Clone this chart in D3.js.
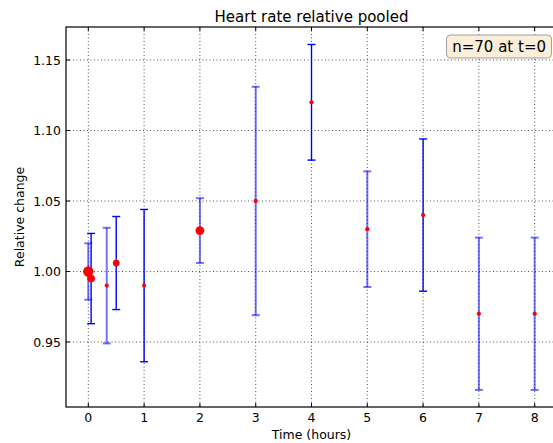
<!DOCTYPE html>
<html><head><meta charset="utf-8">
<script src="https://cdn.jsdelivr.net/npm/d3@7"></script>
<style>body{margin:0;background:#fff}svg{display:block}text{font-family:"DejaVu Sans",sans-serif}</style>
</head><body><svg id="c" width="553" height="443"></svg>
<script>
const times = [0, 0.05, 0.33, 0.5, 1, 2, 3, 4, 5, 6, 7, 8];
const means = [1.000, 0.995, 0.990, 1.006, 0.990, 1.029, 1.050, 1.120, 1.030, 1.040, 0.970, 0.970];
const errs  = [0.020, 0.032, 0.041, 0.033, 0.054, 0.023, 0.081, 0.041, 0.041, 0.054, 0.054, 0.054];
const counts = [70, 38, 11, 30, 11, 51, 12, 12, 12, 12, 12, 12];
const group = ["b","a","b","a","a","b","b","a","b","a","b","b"];
const xTicks = [0,1,2,3,4,5,6,7,8];
const yTicks = [0.95, 1.00, 1.05, 1.10, 1.15];

const svg = d3.select("#c");
const L=66, R=557, T=27, B=407;
const x = d3.scaleLinear().domain([-0.4, 8.4]).range([L, R]);
const y = d3.scaleLinear().domain([0.9039, 1.1734]).range([B, T]);
const r = d3.scaleSqrt().domain([0, 70]).range([0, 5.2]);

// grid
const grid = svg.append("g").attr("stroke","#000").attr("stroke-width",0.8).attr("stroke-dasharray","1,2.5").attr("opacity",0.85);
xTicks.forEach(t=>grid.append("line").attr("x1",x(t)).attr("x2",x(t)).attr("y1",T).attr("y2",B));
yTicks.forEach(t=>grid.append("line").attr("x1",L).attr("x2",R).attr("y1",y(t)).attr("y2",y(t)));

// error bars
const eb = svg.append("g");
times.forEach((t,i)=>{
  const g = eb.append("g").attr("stroke","#0000ff")
    .attr("stroke-opacity", group[i]==="b"?0.55:1)
    .attr("stroke-width", group[i]==="b"?2:1.4);
  const xc = x(t), y1 = y(means[i]+errs[i]), y0 = y(means[i]-errs[i]);
  g.append("line").attr("x1",xc).attr("x2",xc).attr("y1",y1).attr("y2",y0);
  g.append("line").attr("x1",xc-4).attr("x2",xc+4).attr("y1",y1).attr("y2",y1);
  g.append("line").attr("x1",xc-4).attr("x2",xc+4).attr("y1",y0).attr("y2",y0);
});

// points
svg.append("g").selectAll("circle").data(times).join("circle")
  .attr("cx",(d)=>x(d)).attr("cy",(d,i)=>y(means[i])).attr("r",(d,i)=>r(counts[i]))
  .attr("fill","#ff0000");

// frame
const frame = svg.append("g").attr("stroke","#000").attr("stroke-width",1.2).attr("fill","none");
frame.append("rect").attr("x",L).attr("y",T).attr("width",R-L).attr("height",B-T);

// ticks (inward, all sides)
const tk = svg.append("g").attr("stroke","#000").attr("stroke-width",1);
xTicks.forEach(t=>{
  tk.append("line").attr("x1",x(t)).attr("x2",x(t)).attr("y1",B).attr("y2",B-4);
  tk.append("line").attr("x1",x(t)).attr("x2",x(t)).attr("y1",T).attr("y2",T+4);
});
yTicks.forEach(t=>{
  tk.append("line").attr("x1",L).attr("x2",L+4).attr("y1",y(t)).attr("y2",y(t));
  tk.append("line").attr("x1",R).attr("x2",R-4).attr("y1",y(t)).attr("y2",y(t));
});

// tick labels
svg.append("g").selectAll("text").data(xTicks).join("text")
  .attr("x",d=>x(d)).attr("y",421.5).attr("text-anchor","middle").attr("font-size",12.5).text(d=>d3.format("d")(d));
svg.append("g").selectAll("text").data(yTicks).join("text")
  .attr("x",L-5).attr("y",d=>y(d)+4.6).attr("text-anchor","end").attr("font-size",12.5).text(d=>d3.format(".2f")(d));

// labels
svg.append("text").attr("x",(L+R)/2).attr("y",22).attr("text-anchor","middle").attr("font-size",15).text("Heart rate relative pooled");
svg.append("text").attr("x",(L+R)/2).attr("y",439).attr("text-anchor","middle").attr("font-size",12.5).text("Time (hours)");
svg.append("text").attr("transform",`translate(24,${(T+B)/2}) rotate(-90)`).attr("text-anchor","middle").attr("font-size",12.5).text("Relative change");

// annotation box
const ann = svg.append("g");
ann.append("rect").attr("x",446.5).attr("y",35).attr("width",105).attr("height",23).attr("rx",4)
  .attr("fill","#fbefd9").attr("stroke","#a0a0a0").attr("stroke-width",1);
ann.append("text").attr("x",546).attr("y",52).attr("text-anchor","end").attr("font-size",15).text("n=70 at t=0");
</script></body></html>
